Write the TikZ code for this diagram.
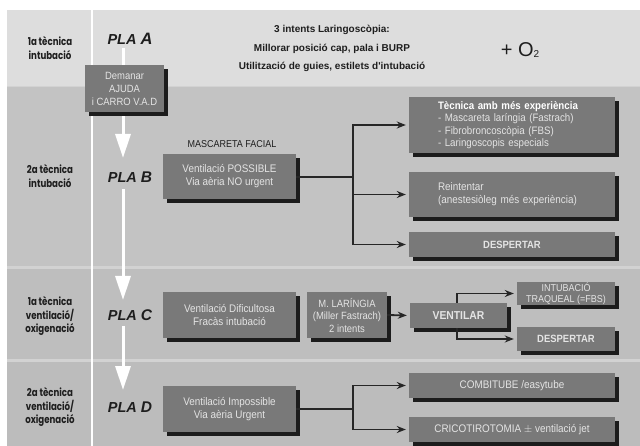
\documentclass[tikz,border=0pt]{standalone}
\usepackage{fontspec}
\setmainfont{Liberation Sans}[FakeStretch=0.9]
\newfontfamily\labfont{Poppins}[FakeStretch=0.80]
\newfontfamily\widefont{Liberation Sans}
\usetikzlibrary{arrows.meta,shadows}
\definecolor{bandA}{HTML}{DDDDDD}
\definecolor{bandB}{HTML}{C3C3C3}
\definecolor{bandC}{HTML}{BEBEBE}
\definecolor{bandD}{HTML}{BCBCBC}
\definecolor{sepc}{HTML}{D2D2D2}
\definecolor{boxc}{HTML}{797979}
\definecolor{boxt}{HTML}{E4E4E4}
\definecolor{shad}{HTML}{1C1C1C}
\definecolor{lk}{HTML}{262626}
\definecolor{txt}{HTML}{1E1E1E}
\tikzset{
  box/.style={fill=boxc, text=boxt, inner sep=0pt, align=center,
    font=\fontsize{11}{13}\selectfont,
    drop shadow={shadow xshift=4pt, shadow yshift=-4pt, fill=shad, opacity=1}},
  lab/.style={text=txt, align=center, font=\labfont\bfseries\fontsize{10.8}{13.8}\selectfont},
  pla/.style={text=txt, font=\widefont\bfseries\itshape\fontsize{14.5}{14.5}\selectfont},
  warr/.style={draw=white, line width=3pt, -{Triangle[width=15pt,length=24pt,fill=white]}},
  arr/.style={draw=lk, line width=1.8pt, -{Stealth[length=9pt,width=7pt]}, shorten >=3pt},
  lnk/.style={draw=lk, line width=1.8pt},
}
\begin{document}
\begin{tikzpicture}[x=1pt,y=-1pt]
\useasboundingbox (0,0) rectangle (640,446);
\fill[white] (0,0) rectangle (640,446);
\fill[sepc] (7,10) rectangle (640,446);
\fill[bandA] (7,10) rectangle (640,86);
\fill[bandB] (7,87) rectangle (640,266);
\fill[bandC] (7,269) rectangle (640,359);
\fill[bandD] (7,362) rectangle (640,446);
\draw[white, line width=2.5pt] (92,10) -- (92,446);

% left labels
\node[lab] (la) at (50,48) {1a tècnica\\intubació};
\node[lab] (lb) at (50,176) {2a tècnica\\intubació};
\node[lab] (lc) at (50,316) {1a tècnica\\ventilació/\\oxigenació};
\node[lab] (ld) at (50,407) {2a tècnica\\ventilació/\\oxigenació};

% plans
\node[pla] (pa) at (130,39) {PLA {\fontsize{16.5}{16.5}\selectfont A}};
\node[pla] (pb) at (130,177) {PLA {\fontsize{15.5}{15.5}\selectfont B}};
\node[pla] (pc) at (130,315) {PLA {\fontsize{15.5}{15.5}\selectfont C}};
\node[pla] (pd) at (130,407) {PLA {\fontsize{15.5}{15.5}\selectfont D}};

\coordinate (tb) at (123,158);
\coordinate (tc) at (123,300);
\coordinate (td) at (123,390);
\draw[warr] (123,48) -- (tb);
\draw[warr] (123,189) -- (tc);
\draw[warr] (123,326) -- (td);

% band A
\node[box, minimum width=79pt, minimum height=47pt, font=\fontsize{10.5}{13}\selectfont] (aj) at (124.5,88.5) {Demanar\\AJUDA\\i CARRO V.A.D};
\node[text=txt, align=center, font=\widefont\bfseries\fontsize{10}{18.5}\selectfont] (ta) at (332,48.5)
  {3 intents Laringoscòpia:\\Millorar posició cap, pala i BURP\\Utilització de guies, estilets d'intubació};
\node[text=txt, font=\widefont\fontsize{20}{20}\selectfont] (o2) at (520,50) {+ O\raisebox{-1pt}{\fontsize{10}{10}\selectfont 2}};

% band B
\node[text=txt, font=\fontsize{10}{11}\selectfont] (mf) at (232,144) {MASCARETA FACIAL};
\node[box, minimum width=133pt, minimum height=45pt] (vp) at (229.5,176.5) {Ventilació POSSIBLE\\Via aèria NO urgent};
\node[box, minimum height=56pt, inner xsep=29pt, text width=148pt, align=left, font=\fontsize{10.8}{12.5}\selectfont] (tec) at (512,125)
  {{\color{white}\bfseries Tècnica amb més experiència}\\- Mascareta laríngia (Fastrach)\\- Fibrobroncoscòpia (FBS)\\- Laringoscopis especials};
\node[box, minimum height=45pt, inner xsep=29pt, text width=148pt, align=left] (rei) at (512,194.5)
  {Reintentar\\(anestesiòleg més experiència)};
\node[box, minimum width=206pt, minimum height=25pt, font=\bfseries\fontsize{10.5}{12}\selectfont] (de1) at (512,244.5) {DESPERTAR};
\coordinate (jb) at (353,177);
\draw[lnk] (vp.east |- jb) -- (jb);
\draw[arr] (jb) |- (tec.west);
\draw[arr] (jb) |- (rei.west);
\draw[arr] (jb) |- (de1.west);
\draw[lnk] (jb |- tec.west) -- (jb |- de1.west);

% band C
\node[box, minimum width=133pt, minimum height=46pt] (vd) at (229.5,315) {Ventilació Dificultosa\\Fracàs intubació};
\node[box, minimum width=80pt, minimum height=46pt, font=\fontsize{10.5}{12.5}\selectfont] (ml) at (347,315) {M. LARÍNGIA\\(Miller Fastrach)\\2 intents};
\node[box, minimum width=97pt, minimum height=25pt, font=\bfseries\fontsize{11.5}{12}\selectfont] (ve) at (458.5,315.5) {VENTILAR};
\node[box, minimum width=98pt, minimum height=23pt, font=\fontsize{10}{11.5}\selectfont] (it) at (566,293.5) {INTUBACIÓ\\TRAQUEAL (=FBS)};
\node[box, minimum width=98pt, minimum height=24pt, font=\bfseries\fontsize{10.5}{12}\selectfont] (de2) at (566,339) {DESPERTAR};
\draw[arr] (ml.east) -- (ve.west);
\draw[arr] ([xshift=-1.5pt]ve.north) |- (it.west);
\draw[arr] ([xshift=-1.5pt]ve.south) |- (de2.west);

% band D
\node[box, minimum width=133pt, minimum height=46pt] (vi) at (229.5,409) {Ventilació Impossible\\Via aèria Urgent};
\node[box, minimum width=206pt, minimum height=25pt] (co) at (512,385.5) {COMBITUBE /easytube};
\node[box, minimum width=206pt, minimum height=25pt] (cr) at (512,429.5) {CRICOTIROTOMIA $\pm$ ventilació jet};
\coordinate (jd) at (353,409);
\draw[lnk] (vi.east) -- (jd);
\draw[arr] (jd) |- (co.west);
\draw[arr] (jd) |- (cr.west);
\end{tikzpicture}
\end{document}
